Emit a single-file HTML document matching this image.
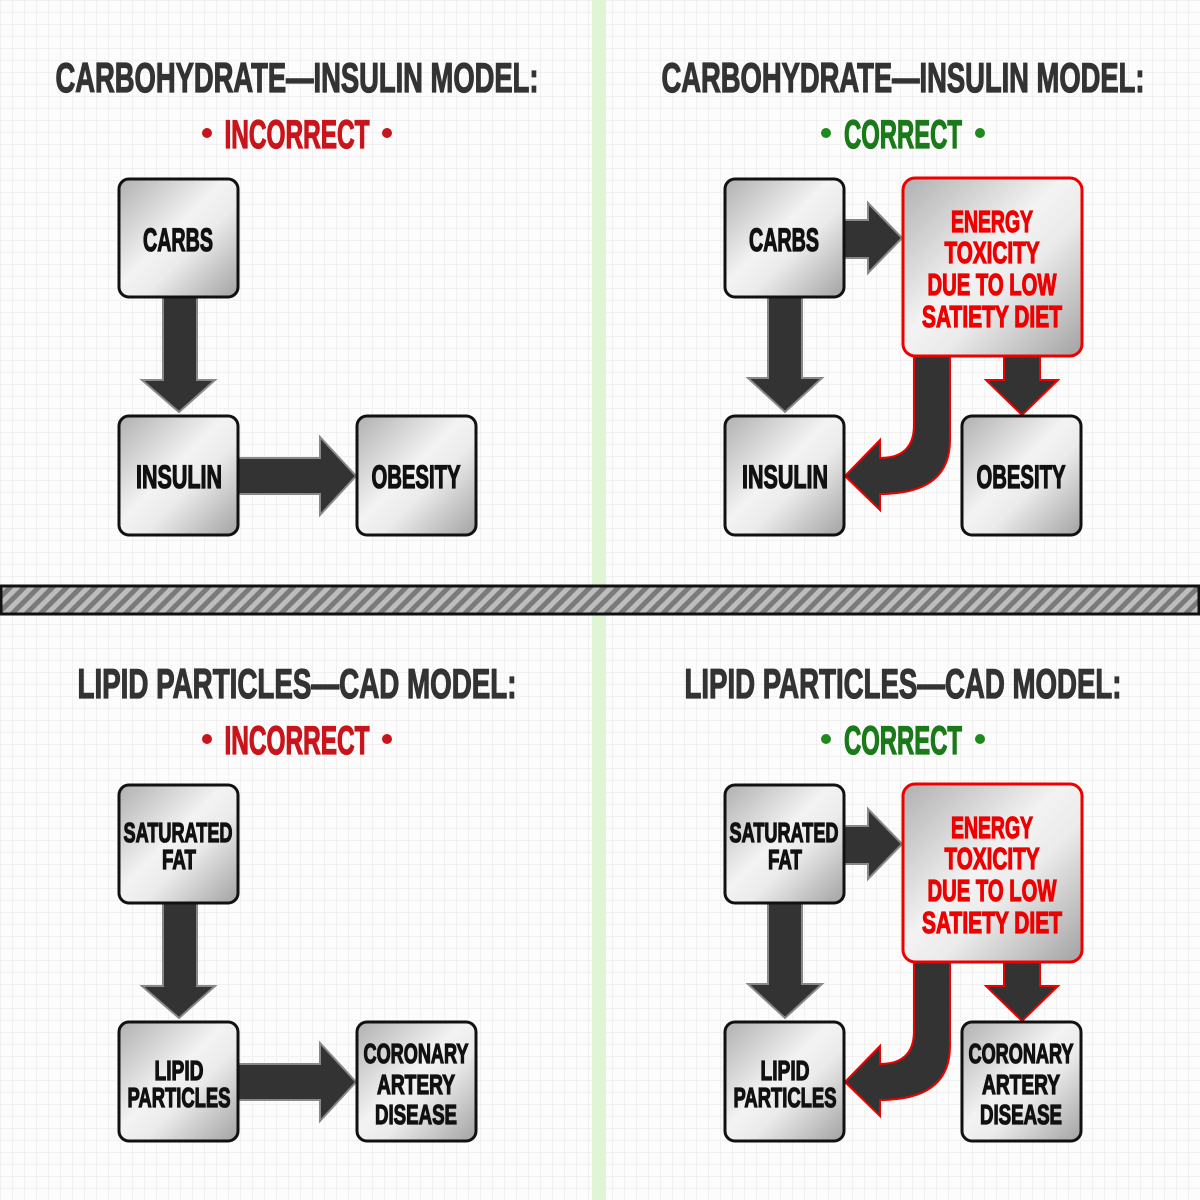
<!DOCTYPE html>
<html><head><meta charset="utf-8"><style>
html,body{margin:0;padding:0}
body{width:1200px;height:1200px;background:#fcfcfc;background-image:linear-gradient(#f1f1f1 1px,transparent 1px),linear-gradient(90deg,#f1f1f1 1px,transparent 1px);background-size:12px 12px;overflow:hidden}
svg{display:block}
text{font-family:"Liberation Sans Narrow","Liberation Sans",sans-serif;font-weight:bold;text-anchor:middle;stroke-width:1.3px}
text[fill="#111"]{stroke:#111}
text[fill="#333"]{stroke:#333}
text[fill="#e00"]{stroke:#e00}
text[fill="#c8141a"]{stroke:#c8141a}
text[fill="#1a7a1a"]{stroke:#1a7a1a}
</style></head><body>
<svg width="1200" height="1200" viewBox="0 0 1200 1200" xmlns="http://www.w3.org/2000/svg">
<defs>
<linearGradient id="g" x1="0" y1="0" x2="1" y2="1">
<stop offset="0" stop-color="#b0b0b0"/><stop offset="0.45" stop-color="#f3f3f3"/><stop offset="0.6" stop-color="#ebebeb"/><stop offset="1" stop-color="#a2a2a2"/>
</linearGradient>
<pattern id="h" width="10" height="10" patternUnits="userSpaceOnUse" patternTransform="rotate(45)">
<rect width="10" height="10" fill="#bdbdbd"/><rect width="5" height="10" fill="#7a7a7a"/>
</pattern>
</defs>
<rect x="592" y="0" width="14" height="1200" fill="#dff5d6"/>
<rect x="1" y="586" width="1198" height="28" fill="url(#h)" stroke="#111" stroke-width="3"/>

<g>
<text x="297" y="92" font-size="42" fill="#333" textLength="483" lengthAdjust="spacingAndGlyphs">CARBOHYDRATE—INSULIN MODEL:</text>
<circle cx="207" cy="133" r="5" fill="#c8141a"/><circle cx="387" cy="133" r="5" fill="#c8141a"/>
<text x="297" y="148" font-size="40" fill="#c8141a" textLength="145" lengthAdjust="spacingAndGlyphs">INCORRECT</text>
<polygon points="163,297 197,297 197,380 215,380 179,412 142,380 163,380" fill="#333" stroke="#888" stroke-width="2"/>
<polygon points="238,458 320,458 320,437 356,476 320,515 320,494 238,494" fill="#333" stroke="#888" stroke-width="2"/>
<rect x="119" y="179" width="119" height="118" rx="10" fill="url(#g)" stroke="#111" stroke-width="3"/>
<rect x="119" y="416" width="119" height="119" rx="10" fill="url(#g)" stroke="#111" stroke-width="3"/>
<rect x="357" y="416" width="119" height="119" rx="10" fill="url(#g)" stroke="#111" stroke-width="3"/>
<text x="178" y="251" font-size="32" fill="#111" textLength="70" lengthAdjust="spacingAndGlyphs">CARBS</text>
<text x="179" y="488" font-size="32" fill="#111" textLength="86" lengthAdjust="spacingAndGlyphs">INSULIN</text>
<text x="416" y="488" font-size="32" fill="#111" textLength="89" lengthAdjust="spacingAndGlyphs">OBESITY</text>
</g>

<g>
<text x="903" y="92" font-size="42" fill="#333" textLength="483" lengthAdjust="spacingAndGlyphs">CARBOHYDRATE—INSULIN MODEL:</text>
<circle cx="826" cy="133" r="5" fill="#1e8a1e"/><circle cx="980" cy="133" r="5" fill="#1e8a1e"/>
<text x="903" y="148" font-size="40" fill="#1a7a1a" textLength="118" lengthAdjust="spacingAndGlyphs">CORRECT</text>
<polygon points="844,220 868,220 868,203 902,238 868,273 868,258 844,258" fill="#333" stroke="#888" stroke-width="2"/>
<polygon points="768,297 802,297 802,378 822,378 785,412 748,378 768,378" fill="#333" stroke="#888" stroke-width="2"/>
<polygon points="1004,356 1040,356 1040,380 1058,380 1022,415 986,380 1004,380" fill="#333" stroke="#e00" stroke-width="2"/>
<path d="M914,356 L950,356 L950,440 Q950,494 880,494 L880,510 L845,476 L880,440 L880,458 Q914,458 914,425 Z" fill="#333" stroke="#e00" stroke-width="2"/>
<rect x="725" y="179" width="119" height="118" rx="10" fill="url(#g)" stroke="#111" stroke-width="3"/>
<rect x="903" y="178" width="179" height="178" rx="12" fill="url(#g)" stroke="#e00" stroke-width="3"/>
<rect x="725" y="416" width="119" height="119" rx="10" fill="url(#g)" stroke="#111" stroke-width="3"/>
<rect x="962" y="416" width="119" height="119" rx="10" fill="url(#g)" stroke="#111" stroke-width="3"/>
<text x="784" y="251" font-size="32" fill="#111" textLength="70" lengthAdjust="spacingAndGlyphs">CARBS</text>
<text x="992" y="232" font-size="31" fill="#e00" textLength="82" lengthAdjust="spacingAndGlyphs">ENERGY</text>
<text x="992" y="263" font-size="31" fill="#e00" textLength="95" lengthAdjust="spacingAndGlyphs">TOXICITY</text>
<text x="992" y="295" font-size="31" fill="#e00" textLength="129" lengthAdjust="spacingAndGlyphs">DUE TO LOW</text>
<text x="992" y="327" font-size="31" fill="#e00" textLength="140" lengthAdjust="spacingAndGlyphs">SATIETY DIET</text>
<text x="785" y="488" font-size="32" fill="#111" textLength="86" lengthAdjust="spacingAndGlyphs">INSULIN</text>
<text x="1021" y="488" font-size="32" fill="#111" textLength="89" lengthAdjust="spacingAndGlyphs">OBESITY</text>
</g>

<g transform="translate(0,606)">
<text x="297" y="92" font-size="42" fill="#333" textLength="439" lengthAdjust="spacingAndGlyphs">LIPID PARTICLES—CAD MODEL:</text>
<circle cx="207" cy="133" r="5" fill="#c8141a"/><circle cx="387" cy="133" r="5" fill="#c8141a"/>
<text x="297" y="148" font-size="40" fill="#c8141a" textLength="145" lengthAdjust="spacingAndGlyphs">INCORRECT</text>
<polygon points="163,297 197,297 197,380 215,380 179,412 142,380 163,380" fill="#333" stroke="#888" stroke-width="2"/>
<polygon points="238,458 320,458 320,437 356,476 320,515 320,494 238,494" fill="#333" stroke="#888" stroke-width="2"/>
<rect x="119" y="179" width="119" height="118" rx="10" fill="url(#g)" stroke="#111" stroke-width="3"/>
<rect x="119" y="416" width="119" height="119" rx="10" fill="url(#g)" stroke="#111" stroke-width="3"/>
<rect x="357" y="416" width="119" height="119" rx="10" fill="url(#g)" stroke="#111" stroke-width="3"/>
<text x="178" y="236" font-size="28" fill="#111" textLength="109" lengthAdjust="spacingAndGlyphs">SATURATED</text>
<text x="179" y="263" font-size="28" fill="#111" textLength="34" lengthAdjust="spacingAndGlyphs">FAT</text>
<text x="179" y="474" font-size="28" fill="#111" textLength="49" lengthAdjust="spacingAndGlyphs">LIPID</text>
<text x="179" y="501" font-size="28" fill="#111" textLength="103" lengthAdjust="spacingAndGlyphs">PARTICLES</text>
<text x="416" y="457" font-size="28" fill="#111" textLength="105" lengthAdjust="spacingAndGlyphs">CORONARY</text>
<text x="416" y="488" font-size="28" fill="#111" textLength="78" lengthAdjust="spacingAndGlyphs">ARTERY</text>
<text x="416" y="518" font-size="28" fill="#111" textLength="82" lengthAdjust="spacingAndGlyphs">DISEASE</text>
</g>

<g transform="translate(0,606)">
<text x="903" y="92" font-size="42" fill="#333" textLength="437" lengthAdjust="spacingAndGlyphs">LIPID PARTICLES—CAD MODEL:</text>
<circle cx="826" cy="133" r="5" fill="#1e8a1e"/><circle cx="980" cy="133" r="5" fill="#1e8a1e"/>
<text x="903" y="148" font-size="40" fill="#1a7a1a" textLength="118" lengthAdjust="spacingAndGlyphs">CORRECT</text>
<polygon points="844,220 868,220 868,203 902,238 868,273 868,258 844,258" fill="#333" stroke="#888" stroke-width="2"/>
<polygon points="768,297 802,297 802,378 822,378 785,412 748,378 768,378" fill="#333" stroke="#888" stroke-width="2"/>
<polygon points="1004,356 1040,356 1040,380 1058,380 1022,415 986,380 1004,380" fill="#333" stroke="#e00" stroke-width="2"/>
<path d="M914,356 L950,356 L950,440 Q950,494 880,494 L880,510 L845,476 L880,440 L880,458 Q914,458 914,425 Z" fill="#333" stroke="#e00" stroke-width="2"/>
<rect x="725" y="179" width="119" height="118" rx="10" fill="url(#g)" stroke="#111" stroke-width="3"/>
<rect x="903" y="178" width="179" height="178" rx="12" fill="url(#g)" stroke="#e00" stroke-width="3"/>
<rect x="725" y="416" width="119" height="119" rx="10" fill="url(#g)" stroke="#111" stroke-width="3"/>
<rect x="962" y="416" width="119" height="119" rx="10" fill="url(#g)" stroke="#111" stroke-width="3"/>
<text x="784" y="236" font-size="28" fill="#111" textLength="109" lengthAdjust="spacingAndGlyphs">SATURATED</text>
<text x="785" y="263" font-size="28" fill="#111" textLength="34" lengthAdjust="spacingAndGlyphs">FAT</text>
<text x="992" y="232" font-size="31" fill="#e00" textLength="82" lengthAdjust="spacingAndGlyphs">ENERGY</text>
<text x="992" y="263" font-size="31" fill="#e00" textLength="95" lengthAdjust="spacingAndGlyphs">TOXICITY</text>
<text x="992" y="295" font-size="31" fill="#e00" textLength="129" lengthAdjust="spacingAndGlyphs">DUE TO LOW</text>
<text x="992" y="327" font-size="31" fill="#e00" textLength="140" lengthAdjust="spacingAndGlyphs">SATIETY DIET</text>
<text x="785" y="474" font-size="28" fill="#111" textLength="49" lengthAdjust="spacingAndGlyphs">LIPID</text>
<text x="785" y="501" font-size="28" fill="#111" textLength="103" lengthAdjust="spacingAndGlyphs">PARTICLES</text>
<text x="1021" y="457" font-size="28" fill="#111" textLength="105" lengthAdjust="spacingAndGlyphs">CORONARY</text>
<text x="1021" y="488" font-size="28" fill="#111" textLength="78" lengthAdjust="spacingAndGlyphs">ARTERY</text>
<text x="1021" y="518" font-size="28" fill="#111" textLength="82" lengthAdjust="spacingAndGlyphs">DISEASE</text>
</g>
</svg>
</body></html>
